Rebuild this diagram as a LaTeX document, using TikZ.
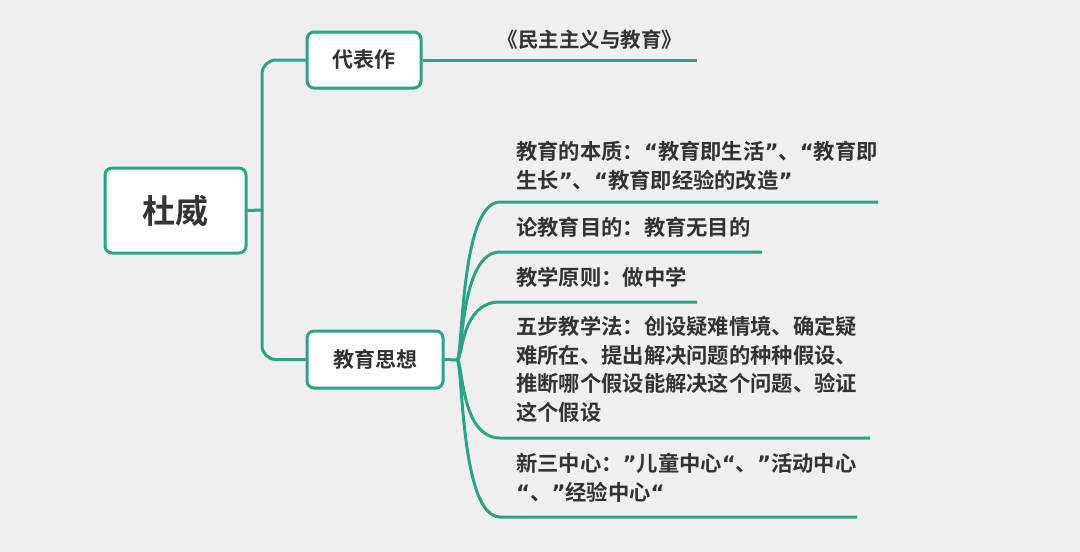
\documentclass[tikz,border=0pt]{standalone}
\usepackage{fontspec}
\newfontfamily\cjk{Noto Sans CJK SC Bold}
\newfontfamily\lat{DejaVu Sans Bold}
\newcommand{\qL}{{\lat “}}
\newcommand{\qR}{{\lat ”}}
\definecolor{tl}{HTML}{2AA386}
\definecolor{bg}{HTML}{EFEFEF}
\definecolor{tx}{HTML}{333333}
\begin{document}
\begin{tikzpicture}[x=1pt,y=-1pt,
  box/.style={draw=tl,line width=3pt,fill=white,rounded corners=7pt,inner sep=0pt,text=tx},
  ln/.style={draw=tl,line width=3pt},
  lab/.style={anchor=north west,inner sep=0pt,text=tx,font=\cjk\fontsize{21.3}{28.5}\selectfont,align=left}]
\fill[bg] (0,0) rectangle (1080,552);
\useasboundingbox (0,0) rectangle (1080,552);
\node[box,minimum width=141pt,minimum height=85pt,font=\cjk\fontsize{33}{36}\selectfont] (root) at (175.5,210.5) {杜威};
\node[box,minimum width=114pt,minimum height=56pt,font=\cjk\fontsize{21}{24}\selectfont] (rep) at (364,60) {代表作};
\node[box,minimum width=136pt,minimum height=57pt,font=\cjk\fontsize{21}{24}\selectfont] (edu) at (375,359.5) {教育思想};
\coordinate (j) at (262,210);
\draw[ln] (root.east) -- (j);
\draw[ln,rounded corners=14pt] (j) |- (rep.west);
\draw[ln,rounded corners=14pt] (j) |- (edu.west);
\coordinate (u0) at (697,60);
\draw[ln] (rep.east) -- (u0);
\node[lab,anchor=center,font=\cjk\fontsize{20.5}{24}\selectfont] (t0) at (590,40) {《民主主义与教育》};
\coordinate (b) at (457,360);
\draw[ln] (edu.east) -- (b);
\foreach \y/\e/\n in {202/878/1,252/762/2,302/697/3,438/870/4,517/857/5}{
  \coordinate (s\n) at (500,\y);
  \coordinate (e\n) at (\e,\y);
  \draw[ln] (b) .. controls (463,360) and (460,\y) .. (s\n) -- (e\n);
}
\node[lab] (t1) at (516,141) {教育的本质：\qL 教育即生活\qR、\qL 教育即\\生长\qR、\qL 教育即经验的改造\qR};
\node[lab] (t2) at (516,217) {论教育目的：教育无目的};
\node[lab] (t3) at (516,267) {教学原则：做中学};
\node[lab] (t4) at (516,316) {五步教学法：创设疑难情境、确定疑\\难所在、提出解决问题的种种假设、\\推断哪个假设能解决这个问题、验证\\这个假设};
\node[lab] (t5) at (516,453) {新三中心：\qR 儿童中心\qL、\qR 活动中心\\\qL、\qR 经验中心\qL};
\end{tikzpicture}
\end{document}
